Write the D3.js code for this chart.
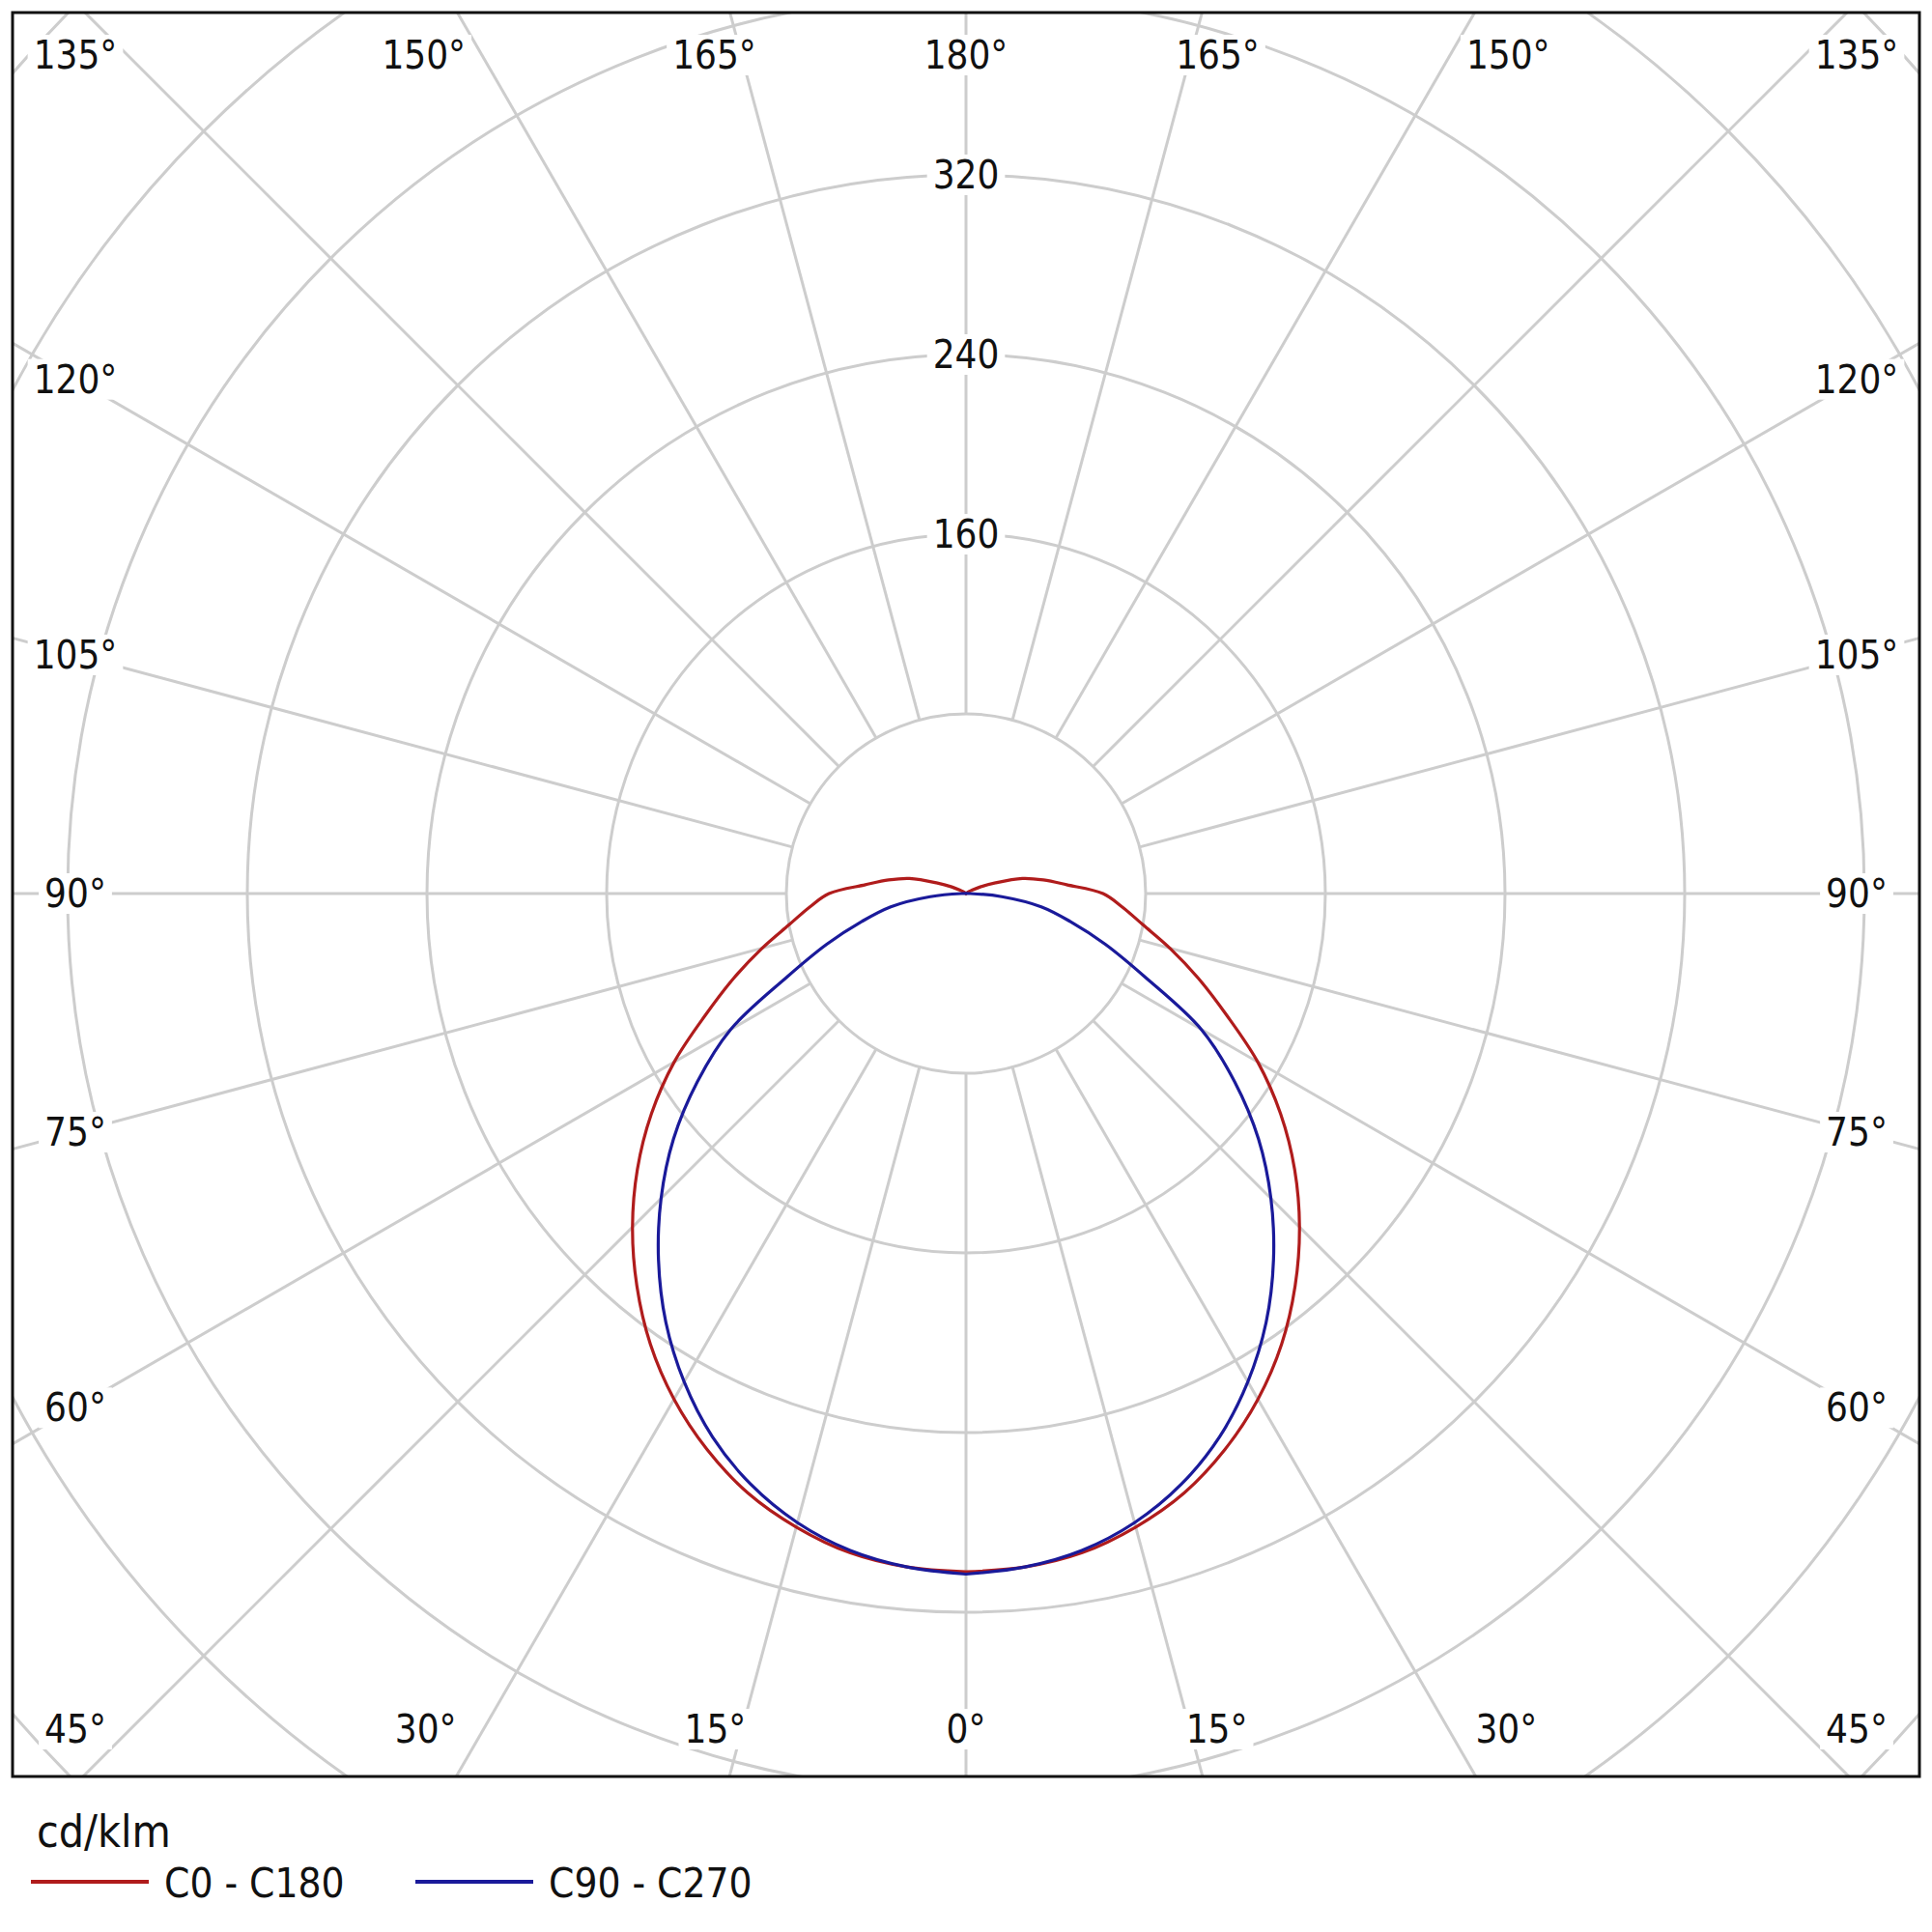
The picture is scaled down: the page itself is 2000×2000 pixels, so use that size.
<!DOCTYPE html>
<html><head><meta charset="utf-8">
<script src="https://cdn.jsdelivr.net/npm/d3@7"></script>
<style>body{margin:0;background:#fff}</style></head>
<body><svg id="c" width="2000" height="2000"></svg>
<script>
const anglesC0 = [0,5,10,15,20,25,30,35,40,45,50,55,60,65,70,75,80,85,90,95,100,105,110,115,120,130,140,160,180];
const valuesC0 = [302,301,298,292,284,273,260,245,228,210,191,171,150,128,110,94,80,70,61,45,35,26,14,7,3,1,0,0,0];
const anglesC90 = [0,5,10,15,20,25,30,35,40,45,50,55,60,65,70,75,80,85,90];
const valuesC90 = [303,301,297,290,280,267,251,233,213,192,170,146,121,88,66,48,34,16,2];
const ringTicks = [80,160,240,320,400,480,560,640];
const ringLabels = [160,240,320];
const angleTicks = [0,15,30,45,60,75,90,105,120,135,150,165,180];
const seriesNames = ["C0 - C180","C90 - C270"];
const unitLabel = "cd/klm";

(function(){
const svg = d3.select("#c");
const cx = 1000, cy = 925;
const fx0 = 13, fy0 = 13, fx1 = 1987, fy1 = 1839;
const r = d3.scaleLinear().domain([0,80]).range([0,186]);
const font = "'DejaVu Sans Condensed','DejaVu Sans',sans-serif";

svg.append("defs").append("clipPath").attr("id","fr").append("rect")
  .attr("x",fx0).attr("y",fy0).attr("width",fx1-fx0).attr("height",fy1-fy0);
const g = svg.append("g").attr("clip-path","url(#fr)");
const grid = "#cdcdcd";
g.selectAll("circle.ring").data(ringTicks).join("circle")
  .attr("cx",cx).attr("cy",cy).attr("r",d=>r(d))
  .attr("fill","none").attr("stroke",grid).attr("stroke-width",3);
const rays = d3.range(0,360,15);
g.selectAll("line.ray").data(rays).join("line")
  .attr("x1",d=>cx+r(80)*Math.sin(d*Math.PI/180))
  .attr("y1",d=>cy+r(80)*Math.cos(d*Math.PI/180))
  .attr("x2",d=>cx+r(700)*Math.sin(d*Math.PI/180))
  .attr("y2",d=>cy+r(700)*Math.cos(d*Math.PI/180))
  .attr("stroke",grid).attr("stroke-width",3);

function pts(angles, vals){
  const right = angles.map((a,i)=>[a*Math.PI/180, vals[i]]);
  const left = angles.slice().reverse().map((a,i)=>[-a*Math.PI/180, vals[vals.length-1-i]]);
  return right.concat(left);
}
const line = d3.lineRadial().angle(d=>Math.PI - d[0]).radius(d=>r(d[1])).curve(d3.curveCatmullRomClosed);
const curves = g.append("g").attr("transform",`translate(${cx},${cy})`);
curves.append("path").datum(pts(anglesC0,valuesC0)).attr("d",line)
  .attr("fill","none").attr("stroke","#b01c1c").attr("stroke-width",3.2);
curves.append("path").datum(pts(anglesC90,valuesC90)).attr("d",line)
  .attr("fill","none").attr("stroke","#1a1a9a").attr("stroke-width",3.2);

function label(x,y,txt,size){
  const t = svg.append("text").attr("x",x).attr("y",y).attr("text-anchor","middle")
    .attr("dominant-baseline","central").attr("font-family",font).attr("font-size",size)
    .attr("fill","#111").text(txt);
  const b = t.node().getBBox();
  svg.insert("rect", () => t.node()).attr("x",b.x-6).attr("y",b.y+2).attr("width",b.width+12).attr("height",b.height-4).attr("fill","#fff");
}
ringLabels.forEach(v=>label(cx, cy - r(v), String(v), 40));

const lx = 922, upH = 868, downH = 865;
angleTicks.forEach(a=>{
  [1,-1].forEach(side=>{
    if ((a===0||a===180) && side===-1) return;
    const rad = a*Math.PI/180;
    const s = Math.sin(rad), c = Math.cos(rad);
    let x, y;
    const dy = c>=0 ? downH : upH;
    const tx = Math.abs(c)>1e-9 ? Math.abs(dy/c) : Infinity;
    const ty = Math.abs(lx/s);
    if (tx <= ty){
      y = cy + (c>=0?downH:-upH);
      x = cx + side*Math.min(lx, dy*Math.abs(s/c)*1.12);
    } else {
      x = cx + side*lx;
      y = cy + lx*c/s;
    }
    label(x, y, a+"°", 40);
  });
});

svg.append("rect").attr("x",fx0).attr("y",fy0).attr("width",fx1-fx0).attr("height",fy1-fy0)
  .attr("fill","none").attr("stroke","#111").attr("stroke-width",3);

svg.append("text").attr("x",38).attr("y",1912).attr("font-family",font).attr("font-size",46).attr("fill","#111").text(unitLabel);
const colors = ["#b01c1c","#1a1a9a"];
const lxs = [32,430];
seriesNames.forEach((n,i)=>{
  svg.append("line").attr("x1",lxs[i]).attr("x2",lxs[i]+122).attr("y1",1948).attr("y2",1948)
    .attr("stroke",colors[i]).attr("stroke-width",4);
  svg.append("text").attr("x",lxs[i]+138).attr("y",1964).attr("font-family",font).attr("font-size",42).attr("fill","#111").text(n);
});
})();
</script></body></html>
